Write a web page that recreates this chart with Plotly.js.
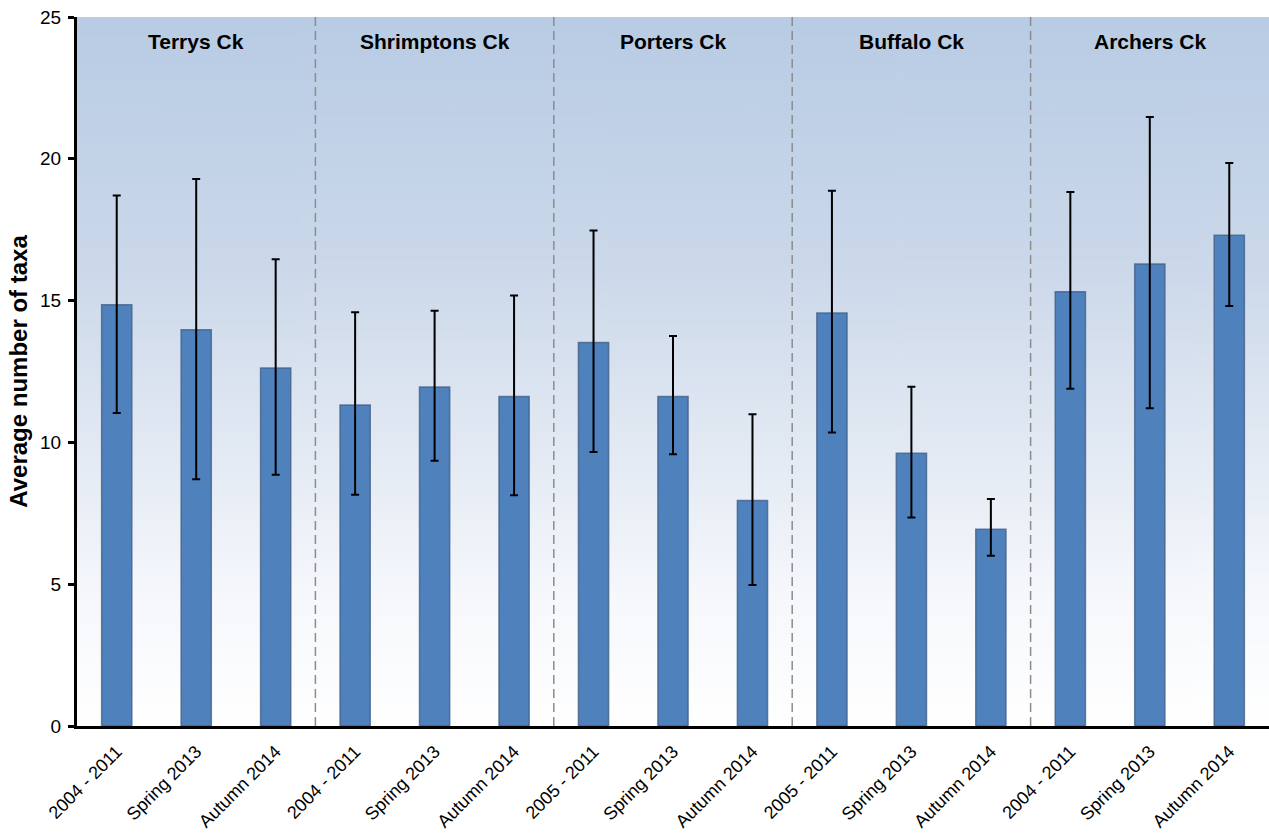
<!DOCTYPE html>
<html>
<head>
<meta charset="utf-8">
<script src="https://cdn.plot.ly/plotly-3.0.1.min.js"></script>
<style>
  html, body { margin: 0; padding: 0; background: #ffffff; }
  #chart { width: 1269px; height: 834px; }
</style>
</head>
<body>
<div id="chart"></div>
<script>
// Creek groups (three sampling periods each)
const creeks = ["Terrys Ck", "Shrimptons Ck", "Porters Ck", "Buffalo Ck", "Archers Ck"];

// Sampling period tick labels, in plotting order
const periods = [
  "2004 - 2011", "Spring 2013", "Autumn 2014",
  "2004 - 2011", "Spring 2013", "Autumn 2014",
  "2005 - 2011", "Spring 2013", "Autumn 2014",
  "2005 - 2011", "Spring 2013", "Autumn 2014",
  "2004 - 2011", "Spring 2013", "Autumn 2014"
];

// Average number of taxa
const meanTaxa = [
  14.85, 13.97, 12.62,
  11.32, 11.95, 11.62,
  13.52, 11.62, 7.95,
  14.56, 9.62, 6.94,
  15.31, 16.29, 17.30
];

// Upper and lower ends of the error bars
const upperTaxa = [
  18.71, 19.29, 16.46,
  14.59, 14.64, 15.18,
  17.47, 13.75, 10.99,
  18.87, 11.96, 8.00,
  18.83, 21.47, 19.85
];
const lowerTaxa = [
  11.04, 8.70, 8.86,
  8.15, 9.35, 8.14,
  9.66, 9.58, 4.97,
  10.35, 7.35, 6.00,
  11.89, 11.20, 14.81
];

const xPos = periods.map((_, i) => i);
const errPlus = upperTaxa.map((u, i) => +(u - meanTaxa[i]).toFixed(3));
const errMinus = lowerTaxa.map((l, i) => +(meanTaxa[i] - l).toFixed(3));

// Vertical gradient for the plotting area background
function gradientImage() {
  const c = document.createElement("canvas");
  c.width = 8; c.height = 512;
  const g = c.getContext("2d");
  const grd = g.createLinearGradient(0, 0, 0, c.height);
  grd.addColorStop(0.0, "rgb(184,204,228)");
  grd.addColorStop(0.35, "rgb(203,216,234)");
  grd.addColorStop(0.6, "rgb(226,233,243)");
  grd.addColorStop(0.82, "rgb(246,248,252)");
  grd.addColorStop(1.0, "rgb(255,255,255)");
  g.fillStyle = grd;
  g.fillRect(0, 0, c.width, c.height);
  return c.toDataURL("image/png");
}

const font = "Liberation Sans, Arial, sans-serif";
const perGroup = 3;

const trace = {
  type: "bar",
  x: xPos,
  y: meanTaxa,
  width: 0.38,
  marker: {
    color: "#4f81bd",
    line: { color: "rgba(62,92,132,0.75)", width: 1.5 }
  },
  error_y: {
    type: "data",
    symmetric: false,
    array: errPlus,
    arrayminus: errMinus,
    color: "#000000",
    thickness: 2,
    width: 4
  },
  hoverinfo: "x+y"
};

// Dashed separators between creeks
const shapes = [];
for (let k = 1; k < creeks.length; k++) {
  const xs = k * perGroup - 0.5;
  shapes.push({
    type: "line", xref: "x", yref: "paper",
    x0: xs, x1: xs, y0: 0, y1: 1,
    line: { color: "#8c8c8c", width: 1.5, dash: "9px,5px" },
    layer: "above"
  });
}

// Creek names centred over each group
const annotations = creeks.map((name, k) => ({
  x: k * perGroup + 1, xref: "x",
  y: 0.965, yref: "paper",
  text: "<b>" + name + "</b>",
  showarrow: false,
  font: { family: font, size: 21, color: "#000000" },
  xanchor: "center", yanchor: "middle"
}));

const layout = {
  width: 1269,
  height: 834,
  margin: { l: 77, r: 0, t: 17, b: 108 },
  paper_bgcolor: "#ffffff",
  plot_bgcolor: "rgba(0,0,0,0)",
  showlegend: false,
  font: { family: font, color: "#000000" },
  images: [{
    source: gradientImage(),
    xref: "paper", yref: "paper",
    x: 0, y: 1, sizex: 1, sizey: 1,
    xanchor: "left", yanchor: "top",
    sizing: "stretch", layer: "below"
  }],
  xaxis: {
    range: [-0.5, periods.length - 0.5],
    tickmode: "array",
    tickvals: xPos,
    ticktext: periods,
    tickangle: -45,
    tickfont: { family: font, size: 18, color: "#000000" },
    ticks: "",
    ticklabelstandoff: 5,
    showgrid: false,
    zeroline: false,
    showline: true,
    linecolor: "#000000",
    linewidth: 3,
    fixedrange: true
  },
  yaxis: {
    range: [0, 25],
    tick0: 0,
    dtick: 5,
    ticks: "outside",
    ticklen: 6,
    tickwidth: 3,
    tickcolor: "#000000",
    tickfont: { family: font, size: 19, color: "#000000" },
    ticklabelstandoff: 3,
    showgrid: false,
    zeroline: false,
    showline: true,
    linecolor: "#000000",
    linewidth: 3,
    title: {
      text: "<b>Average number of taxa</b>",
      font: { family: font, size: 24, color: "#000000" },
      standoff: 6
    },
    fixedrange: true
  },
  shapes: shapes,
  annotations: annotations
};

Plotly.newPlot("chart", [trace], layout, { displayModeBar: false, staticPlot: true });
</script>
</body>
</html>
